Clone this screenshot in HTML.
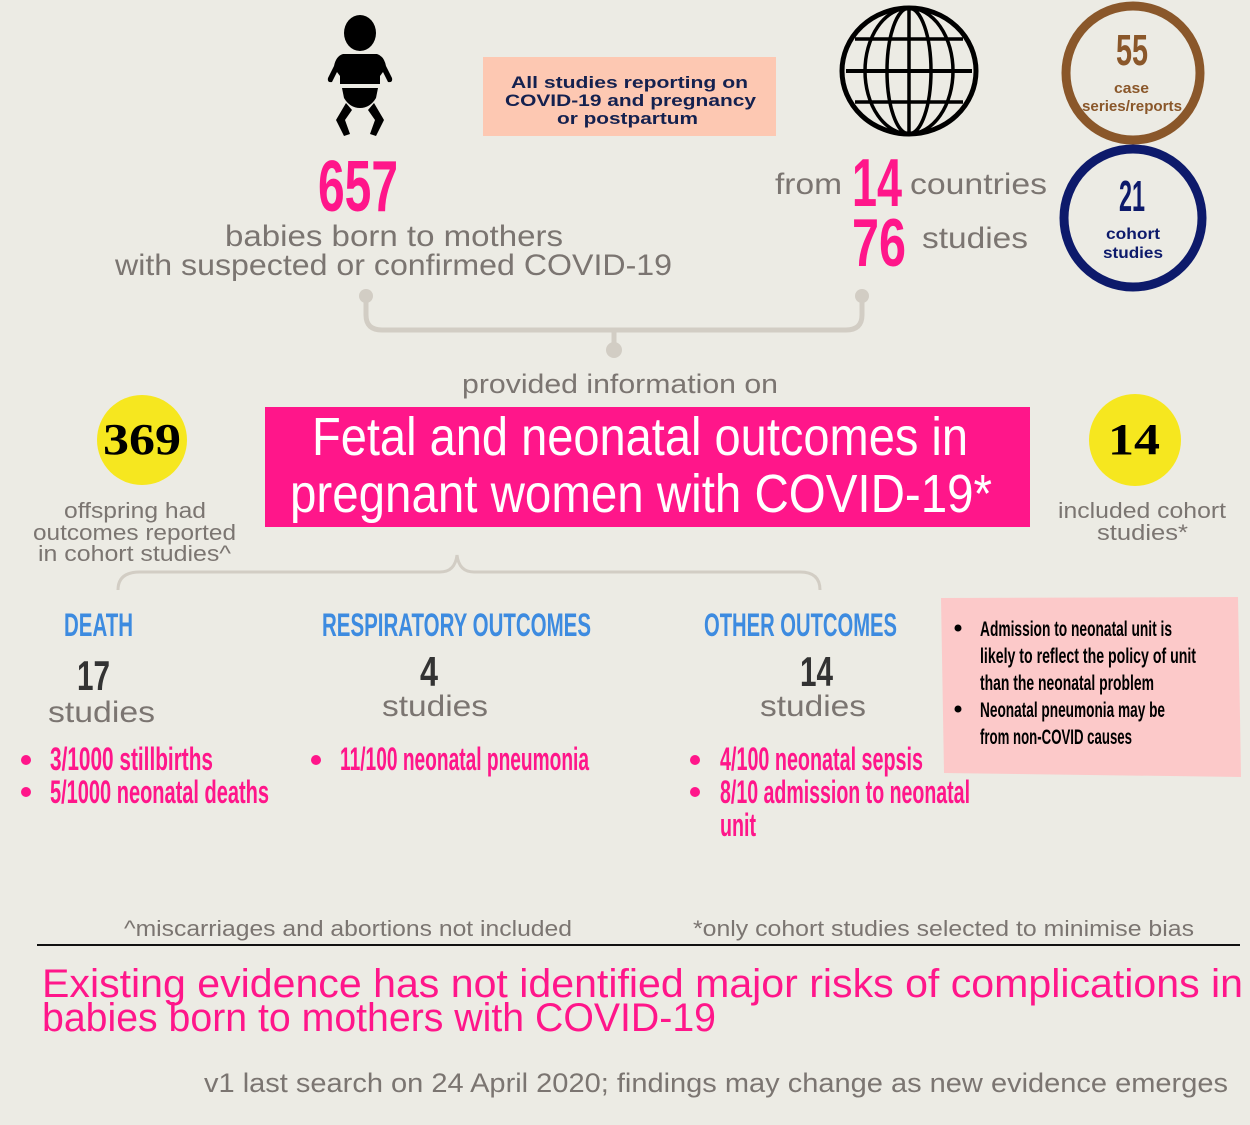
<!DOCTYPE html>
<html><head><meta charset="utf-8"><style>
html,body{margin:0;padding:0;background:#ecebe4;}
svg{display:block}
.c{font-family:"Liberation Sans Narrow","Liberation Sans",sans-serif;font-weight:bold}
.g{font-family:"Liberation Sans",sans-serif;fill:#7b7571}
</style></head><body>
<svg width="1250" height="1125" viewBox="0 0 1250 1125" xmlns="http://www.w3.org/2000/svg">
<rect width="1250" height="1125" fill="#ecebe4"/>
<!-- baby -->
<g fill="#000">
<ellipse cx="360" cy="33" rx="16" ry="18"/>
<path d="M343 54 L377 54 Q384 56 386 66 L392 78 Q393 83 388 82 L383 72 L380 76 L380 84 L340 84 L340 76 L337 72 L332 82 Q327 83 328 78 L334 66 Q336 56 343 54Z"/>
<path d="M342 88 L378 88 L376 98 Q370 108 360 108 Q350 108 344 98Z"/>
<path d="M346 103 L352 110 L345 120 L350 134 L344 136 L336 120Z"/>
<path d="M374 103 L368 110 L375 120 L370 134 L376 136 L384 120Z"/>
</g>
<!-- pink box -->
<rect x="483" y="57" width="293" height="79" fill="#fdc8b2"/>
<g font-family="Liberation Sans,sans-serif" font-weight="bold" font-size="17" fill="#14214f">
<text x="511" y="88" textLength="237" lengthAdjust="spacingAndGlyphs">All studies reporting on</text>
<text x="505" y="106" textLength="251" lengthAdjust="spacingAndGlyphs">COVID-19 and pregnancy</text>
<text x="557" y="124" textLength="141" lengthAdjust="spacingAndGlyphs">or postpartum</text>
</g>
<!-- globe -->
<g fill="none" stroke="#000" stroke-width="5">
<ellipse cx="909" cy="71" rx="67" ry="63"/>
<ellipse cx="909" cy="71" rx="44" ry="63" stroke-width="3.5"/>
<ellipse cx="909" cy="71" rx="22" ry="63" stroke-width="3.5"/>
<line x1="909" y1="8" x2="909" y2="134" stroke-width="3.5"/>
<line x1="846" y1="71" x2="972" y2="71" stroke-width="4"/>
<line x1="855" y1="39" x2="963" y2="39" stroke-width="3.5"/>
<line x1="855" y1="102" x2="963" y2="102" stroke-width="3.5"/>
</g>
<!-- circles -->
<circle cx="1133" cy="73" r="67" fill="none" stroke="#8a572a" stroke-width="9"/>
<text class="c" x="1116" y="65" font-size="44" fill="#8a572a" textLength="32" lengthAdjust="spacingAndGlyphs">55</text>
<text class="c" x="1114" y="93" font-size="15" fill="#8a572a" textLength="35" lengthAdjust="spacingAndGlyphs">case</text>
<text class="c" x="1082" y="111" font-size="15" fill="#8a572a" textLength="100" lengthAdjust="spacingAndGlyphs">series/reports</text>
<circle cx="1133" cy="218" r="69" fill="none" stroke="#0d1a6b" stroke-width="9"/>
<text class="c" x="1119" y="211" font-size="44" fill="#0d1a6b" textLength="26" lengthAdjust="spacingAndGlyphs">21</text>
<text class="c" x="1106" y="239" font-size="16" fill="#0d1a6b" textLength="54" lengthAdjust="spacingAndGlyphs">cohort</text>
<text class="c" x="1103" y="258" font-size="16" fill="#0d1a6b" textLength="60" lengthAdjust="spacingAndGlyphs">studies</text>
<!-- numbers -->
<g class="c" fill="#ff168a">
<text x="318" y="211" font-size="72" textLength="80" lengthAdjust="spacingAndGlyphs">657</text>
<text x="852" y="206" font-size="68" textLength="50" lengthAdjust="spacingAndGlyphs">14</text>
<text x="852" y="266" font-size="68" textLength="54" lengthAdjust="spacingAndGlyphs">76</text>
</g>
<g class="g" font-size="30">
<text x="225" y="246" textLength="338" lengthAdjust="spacingAndGlyphs">babies born to mothers</text>
<text x="115" y="275" textLength="557" lengthAdjust="spacingAndGlyphs">with suspected or confirmed COVID-19</text>
<text x="775" y="194" textLength="67" lengthAdjust="spacingAndGlyphs">from</text>
<text x="910" y="194" textLength="137" lengthAdjust="spacingAndGlyphs">countries</text>
<text x="922" y="248" textLength="106" lengthAdjust="spacingAndGlyphs">studies</text>
</g>
<!-- connector -->
<g fill="#d2cdc4" stroke="#d2cdc4" stroke-width="5">
<circle cx="366" cy="296" r="7" stroke="none"/>
<circle cx="862" cy="296" r="7" stroke="none"/>
<circle cx="614" cy="350" r="8" stroke="none"/>
<path d="M366 296 L366 315 Q366 330 382 330 L846 330 Q862 330 862 315 L862 296 M614 330 L614 350" fill="none"/>
</g>
<text class="g" x="462" y="393" font-size="27" textLength="316" lengthAdjust="spacingAndGlyphs">provided information on</text>
<!-- banner -->
<rect x="265" y="407" width="765" height="120" fill="#ff168a"/>
<g font-family="Liberation Sans Narrow,Liberation Sans,sans-serif" font-size="54" fill="#fff">
<text x="312" y="455" textLength="656" lengthAdjust="spacingAndGlyphs">Fetal and neonatal outcomes in</text>
<text x="290" y="512" textLength="702" lengthAdjust="spacingAndGlyphs">pregnant women with COVID-19*</text>
</g>
<circle cx="142" cy="440" r="45" fill="#f6e71f"/>
<circle cx="1135" cy="440" r="46" fill="#f6e71f"/>
<g font-family="Liberation Serif,serif" font-weight="bold" font-size="44" fill="#000">
<text x="103" y="454" textLength="78" lengthAdjust="spacingAndGlyphs">369</text>
<text x="1108" y="454" textLength="52" lengthAdjust="spacingAndGlyphs">14</text>
</g>
<g class="g" font-size="22">
<text x="64" y="518" textLength="142" lengthAdjust="spacingAndGlyphs">offspring had</text>
<text x="33" y="540" textLength="203" lengthAdjust="spacingAndGlyphs">outcomes reported</text>
<text x="38" y="561" textLength="193" lengthAdjust="spacingAndGlyphs">in cohort studies^</text>
<text x="1058" y="518" textLength="168" lengthAdjust="spacingAndGlyphs">included cohort</text>
<text x="1097" y="540" textLength="91" lengthAdjust="spacingAndGlyphs">studies*</text>
</g>
<!-- brace -->
<path d="M118 590 Q118 572 140 572 L440 572 Q455 572 457 555 Q459 572 474 572 L800 572 Q820 572 820 590" fill="none" stroke="#d2cdc4" stroke-width="3"/>
<!-- headings -->
<g class="c" font-size="32" fill="#3d8be0">
<text x="64" y="636" textLength="69" lengthAdjust="spacingAndGlyphs">DEATH</text>
<text x="322" y="636" textLength="269" lengthAdjust="spacingAndGlyphs">RESPIRATORY OUTCOMES</text>
<text x="704" y="636" textLength="193" lengthAdjust="spacingAndGlyphs">OTHER OUTCOMES</text>
</g>
<g class="c" font-size="42" fill="#333">
<text x="77" y="690" textLength="33" lengthAdjust="spacingAndGlyphs">17</text>
<text x="420" y="686" textLength="18" lengthAdjust="spacingAndGlyphs">4</text>
<text x="800" y="686" textLength="33" lengthAdjust="spacingAndGlyphs">14</text>
</g>
<g class="g" font-size="30">
<text x="48" y="722" textLength="107" lengthAdjust="spacingAndGlyphs">studies</text>
<text x="382" y="716" textLength="106" lengthAdjust="spacingAndGlyphs">studies</text>
<text x="760" y="716" textLength="106" lengthAdjust="spacingAndGlyphs">studies</text>
</g>
<g fill="#ff168a">
<circle cx="26" cy="760" r="5"/><circle cx="26" cy="792" r="5"/>
<circle cx="316" cy="760" r="5"/>
<circle cx="695" cy="760" r="5"/><circle cx="695" cy="792" r="5"/>
</g>
<g class="c" font-size="32" fill="#ff168a">
<text x="50" y="770" textLength="163" lengthAdjust="spacingAndGlyphs">3/1000 stillbirths</text>
<text x="50" y="803" textLength="219" lengthAdjust="spacingAndGlyphs">5/1000 neonatal deaths</text>
<text x="340" y="770" textLength="249" lengthAdjust="spacingAndGlyphs">11/100 neonatal pneumonia</text>
<text x="720" y="770" textLength="203" lengthAdjust="spacingAndGlyphs">4/100 neonatal sepsis</text>
<text x="720" y="803" textLength="250" lengthAdjust="spacingAndGlyphs">8/10 admission to neonatal</text>
<text x="720" y="836" textLength="36" lengthAdjust="spacingAndGlyphs">unit</text>
</g>
<!-- note -->
<path d="M941 598 L1238 597 L1241 777 L944 773 Z" fill="#fcc9c9"/>
<g fill="#000"><circle cx="958" cy="628" r="3.5"/><circle cx="958" cy="709" r="3.5"/></g>
<g class="c" font-size="21" fill="#000">
<text x="980" y="636" textLength="192" lengthAdjust="spacingAndGlyphs">Admission to neonatal unit is</text>
<text x="980" y="663" textLength="216" lengthAdjust="spacingAndGlyphs">likely to reflect the policy of unit</text>
<text x="980" y="690" textLength="174" lengthAdjust="spacingAndGlyphs">than the neonatal problem</text>
<text x="980" y="717" textLength="185" lengthAdjust="spacingAndGlyphs">Neonatal pneumonia may be</text>
<text x="980" y="744" textLength="152" lengthAdjust="spacingAndGlyphs">from non-COVID causes</text>
</g>
<!-- footer -->
<g class="g" font-size="22">
<text x="124" y="936" textLength="448" lengthAdjust="spacingAndGlyphs">^miscarriages and abortions not included</text>
<text x="693" y="936" textLength="501" lengthAdjust="spacingAndGlyphs">*only cohort studies selected to minimise bias</text>
</g>
<line x1="37" y1="945" x2="1240" y2="945" stroke="#111" stroke-width="2"/>
<g font-family="Liberation Sans,sans-serif" font-size="40" fill="#ff168a">
<text x="42" y="997" textLength="1201" lengthAdjust="spacingAndGlyphs">Existing evidence has not identified major risks of complications in</text>
<text x="42" y="1031" textLength="674" lengthAdjust="spacingAndGlyphs">babies born to mothers with COVID-19</text>
</g>
<text class="g" x="204" y="1092" font-size="27" textLength="1024" lengthAdjust="spacingAndGlyphs">v1 last search on 24 April 2020; findings may change as new evidence emerges</text>
</svg>
</body></html>
